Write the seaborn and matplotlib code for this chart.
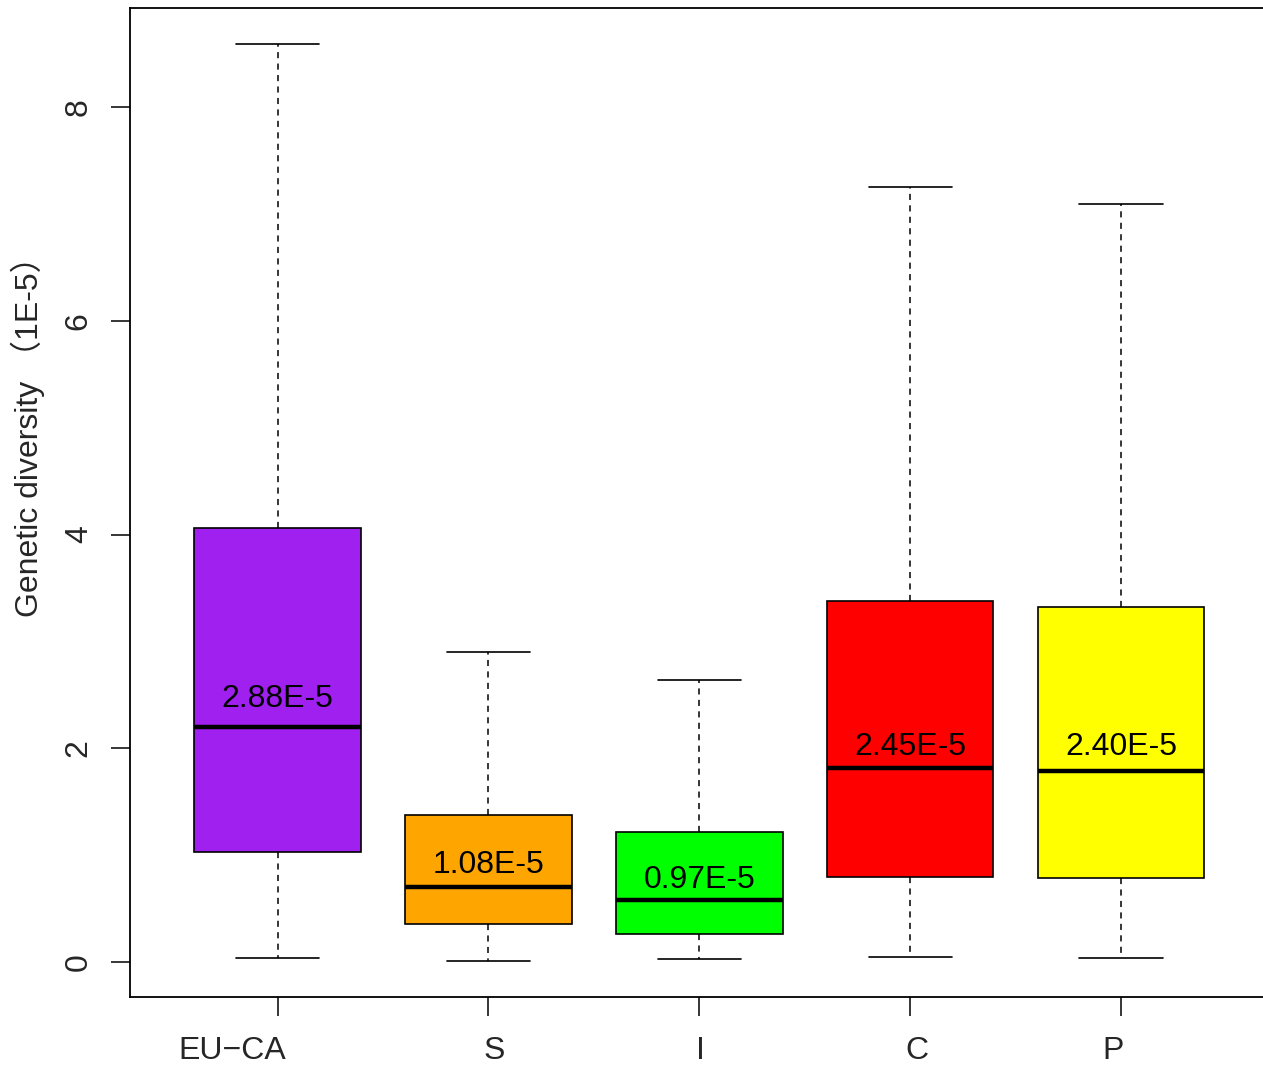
import pandas as pd
import matplotlib
matplotlib.use('Agg')
import matplotlib.pyplot as plt
import matplotlib.transforms as mtransforms
import seaborn as sns

# five-number summaries (units of 1E-5)
groups = ['EU−CA', 'S', 'I', 'C', 'P']
lows = [0.04, 0.01, 0.03, 0.05, 0.04]
q1s = [1.03, 0.355, 0.26, 0.795, 0.785]
medians = [2.20, 0.70, 0.58, 1.815, 1.787]
q3s = [4.06, 1.375, 1.215, 3.38, 3.32]
highs = [8.59, 2.90, 2.64, 7.25, 7.09]
colors = ['#A020F0', '#FFA500', '#00FF00', '#FF0000', '#FFFF00']
mean_labels = ['2.88E-5', '1.08E-5', '0.97E-5', '2.45E-5', '2.40E-5']
label_y = [2.46, 0.91, 0.77, 2.01, 2.01]

rows = []
for g, a, b, c, d, e in zip(groups, lows, q1s, medians, q3s, highs):
    for v in (a, b, c, d, e):
        rows.append({'group': g, 'value': v})
df = pd.DataFrame(rows)

sns.set_style('white')
plt.rcParams['font.family'] = ['Liberation Sans', 'Noto Sans CJK SC', 'DejaVu Sans']

fig = plt.figure(figsize=(12.63, 10.65), dpi=100)
ax = fig.add_axes([0.1029, 0.0638, 0.9016, 0.9287])

sns.boxplot(data=df, x='group', y='value', hue='group', palette=colors,
            order=groups, hue_order=groups, legend=False, saturation=1,
            whis=(0, 100), width=0.79, linecolor='black', linewidth=1.2,
            fliersize=0, ax=ax,
            whiskerprops=dict(linestyle=(0, (4, 3.5)), linewidth=1.1),
            capprops=dict(linewidth=1.2),
            medianprops=dict(linewidth=3.2, color='black'))

for i, (txt, y) in enumerate(zip(mean_labels, label_y)):
    ax.text(i, y, txt, ha='center', va='center', fontsize=23, color='black')

ax.set_xlim(-0.7, 4.7)
ax.set_ylim(-0.3275, 8.926)
ax.set_yticks([0, 2, 4, 6, 8])
ax.set_yticklabels(['0', '2', '4', '6', '8'], rotation=90, va='center', fontsize=23)
ax.set_xticks(range(len(groups)))
ax.set_xticklabels(groups, fontsize=23)
ax.tick_params(axis='both', direction='out', length=14, width=1.1, color='black',
               left=True, bottom=True)
ax.tick_params(axis='x', pad=14)
ax.tick_params(axis='y', pad=12)

# label nudges as in the reference
shifts = [-45, 6, 1, 7, -8]
for lab, dx in zip(ax.get_xticklabels(), shifts):
    lab.set_transform(lab.get_transform() + mtransforms.ScaledTranslation(dx / 100, 0, fig.dpi_scale_trans))

ax.set_xlabel('')
ax.set_ylabel('Genetic diversity （1E-5）', fontsize=23)
ax.yaxis.set_label_coords(-0.075, 0.575)

for s in ax.spines.values():
    s.set_color('black')
    s.set_linewidth(1.3)

fig.savefig('out.png', dpi=100)
